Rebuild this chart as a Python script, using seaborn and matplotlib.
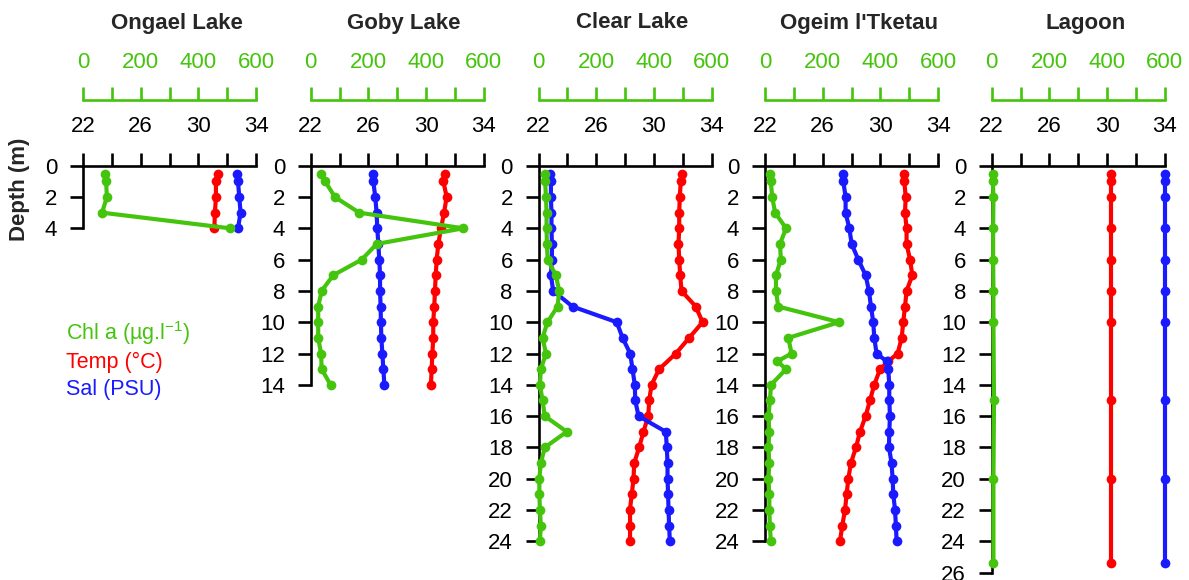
import numpy as np
import pandas as pd
import matplotlib
matplotlib.use("Agg")
import matplotlib.pyplot as plt
import seaborn as sns

# Colours
chl_col = "#44c40c"
temp_col = "#ff0000"
sal_col = "#1a1aff"

# Panel names
lakes = ["Ongael Lake", "Goby Lake", "Clear Lake", "Ogeim l'Tketau", "Lagoon"]

# Ongael Lake
ongael_depth = [0.5, 1, 2, 3, 4]
ongael_chl = [76, 80, 83, 66, 510]
ongael_temp = [31.34, 31.22, 31.22, 31.15, 31.11]
ongael_sal = [32.70, 32.75, 32.84, 32.93, 32.75]

# Goby Lake
goby_depth = [0.5, 1, 2, 3, 4, 5, 6, 7, 8, 9, 10, 11, 12, 13, 14]
goby_chl = [36, 50, 84, 168, 529, 229, 177, 78, 38, 26, 26, 26, 36, 38, 69]
goby_temp = [31.31, 31.20, 31.43, 31.25, 31.04, 30.85, 30.74, 30.67, 30.62,
             30.57, 30.50, 30.50, 30.44, 30.39, 30.34]
goby_sal = [26.30, 26.34, 26.48, 26.57, 26.62, 26.69, 26.76, 26.81, 26.81,
            26.85, 26.87, 26.90, 26.97, 27.04, 27.11]

# Clear Lake
clear_depth = [0.5, 1, 2, 3, 4, 5, 6, 7, 8, 9, 10, 11, 12, 13, 14, 15, 16,
               17, 18, 19, 20, 21, 22, 23, 24]
clear_chl = [23, 23, 26, 28, 28, 29, 32, 60, 72, 66, 31, 14, 26, 8, 5, 14,
             22, 98, 22, 8, 3, 3, 5, 8, 5]
clear_temp = [31.94, 31.87, 31.80, 31.76, 31.76, 31.71, 31.76, 31.83, 31.92,
              32.91, 33.38, 32.45, 31.53, 30.37, 29.84, 29.68, 29.61, 29.28,
              28.98, 28.64, 28.59, 28.47, 28.34, 28.36, 28.34]
clear_sal = [22.79, 22.86, 22.86, 22.90, 22.90, 22.93, 22.93, 22.86, 23.02,
             24.36, 27.43, 27.83, 28.36, 28.52, 28.68, 28.71, 28.94, 30.83,
             30.90, 30.95, 30.95, 30.99, 31.02, 31.06, 31.11]

# Ogeim l'Tketau
ogeim_depth = [0.5, 1, 2, 3, 4, 5, 6, 7, 8, 9, 10, 11, 12, 12.5, 13, 14, 15,
               16, 17, 18, 19, 20, 21, 22, 23, 24]
ogeim_chl = [17, 20, 25, 35, 73, 52, 55, 38, 38, 46, 257, 81, 92, 43, 73,
             21, 17, 12, 15, 12, 15, 12, 15, 15, 17, 20]
ogeim_temp = [31.66, 31.66, 31.76, 31.71, 31.82, 31.82, 32.06, 32.22, 31.82,
              31.71, 31.59, 31.48, 31.20, 30.55, 29.98, 29.58, 29.28, 28.98,
              28.59, 28.31, 27.96, 27.78, 27.66, 27.55, 27.36, 27.20]
ogeim_sal = [27.39, 27.43, 27.59, 27.59, 27.85, 28.01, 28.47, 28.98, 29.21,
             29.35, 29.51, 29.58, 29.74, 30.44, 30.55, 30.62, 30.62, 30.67,
             30.62, 30.60, 30.78, 30.85, 30.90, 31.02, 31.08, 31.13]

# Lagoon
lagoon_depth = [0.5, 1, 2, 4, 6, 8, 10, 15, 20, 25.4]
lagoon_chl = [6, 4, 6, 5, 5, 6, 6, 8, 6, 6]
lagoon_temp = [30.25, 30.25, 30.25, 30.25, 30.25, 30.25, 30.25, 30.25, 30.25, 30.25]
lagoon_sal = [34.0, 34.0, 34.0, 34.0, 34.0, 34.0, 34.0, 34.0, 34.0, 34.0]

# Max depth drawn on each depth axis
max_depth = [4, 14, 24, 24, 26]

panels = [
    (ongael_depth, ongael_chl, ongael_temp, ongael_sal),
    (goby_depth, goby_chl, goby_temp, goby_sal),
    (clear_depth, clear_chl, clear_temp, clear_sal),
    (ogeim_depth, ogeim_chl, ogeim_temp, ogeim_sal),
    (lagoon_depth, lagoon_chl, lagoon_temp, lagoon_sal),
]

sns.set_style("ticks")
plt.rcParams["font.family"] = ["Liberation Sans", "DejaVu Sans"]
plt.rcParams["mathtext.fontset"] = "custom"
plt.rcParams["mathtext.rm"] = "Liberation Sans"

W, H = 1189, 580
fig = plt.figure(figsize=(W / 100, H / 100), dpi=100)

left_px = [83, 310.7, 538.5, 765, 991.7]
width_px = 173
top_px = 165.7
bottom_px = 165.7 + 26 * 15.65

fs = 16
axis_lw = 1.9
tick_len = 9.5
line_kw = dict(marker="o", markersize=7, markeredgewidth=0, linewidth=3,
               clip_on=False, estimator=None, orient="y")

for i, (name, (depth, chl, temp, sal)) in enumerate(zip(lakes, panels)):
    ax = fig.add_axes([left_px[i] / W, (H - bottom_px) / H,
                       width_px / W, (bottom_px - top_px) / H])
    ax.patch.set_alpha(0)

    sns.lineplot(x=temp, y=depth, color=temp_col, ax=ax, **line_kw)
    sns.lineplot(x=sal, y=depth, color=sal_col, ax=ax, **line_kw)

    # Chl a on its own top axis
    ax2 = ax.twiny()
    ax2.patch.set_alpha(0)
    sns.lineplot(x=chl, y=depth, color=chl_col, ax=ax2, **line_kw)

    ax.set_xlim(22, 34)
    ax.set_ylim(26, 0)
    ax.set_xlabel("")
    ax.set_ylabel("")
    for s in ["bottom", "right"]:
        ax.spines[s].set_visible(False)
    ax.spines["left"].set_bounds(0, max_depth[i])
    ax.spines["top"].set_bounds(22, 34)
    for s in ["left", "top"]:
        ax.spines[s].set_linewidth(axis_lw)
        ax.spines[s].set_color("black")
    ax.set_xticks(np.arange(22, 35, 2))
    ax.set_xticklabels(["22", "", "26", "", "30", "", "34"])
    ax.set_yticks(np.arange(0, max_depth[i] + 1, 2))
    ax.tick_params(axis="both", direction="out", length=tick_len, width=axis_lw,
                   labelsize=fs, colors="black")
    ax.tick_params(axis="x", top=True, bottom=False, labeltop=True,
                   labelbottom=False, pad=11)
    ax.tick_params(axis="y", pad=9)

    ax2.set_xlim(0, 600)
    ax2.set_ylim(26, 0)
    ax2.set_xlabel("")
    ax2.set_ylabel("")
    for s in ["bottom", "right", "left"]:
        ax2.spines[s].set_visible(False)
    ax2.spines["top"].set_position(("outward", 47.5))
    ax2.spines["top"].set_color(chl_col)
    ax2.spines["top"].set_linewidth(axis_lw)
    ax2.set_xticks(np.arange(0, 601, 100))
    ax2.set_xticklabels(["0", "", "200", "", "400", "", "600"])
    ax2.tick_params(axis="x", direction="out", length=tick_len, width=axis_lw,
                    labelsize=fs, colors=chl_col, pad=10, top=True,
                    bottom=False, labeltop=True, labelbottom=False)
    ax2.tick_params(axis="y", left=False, right=False, labelleft=False,
                    labelright=False)

    fig.text((left_px[i] + width_px / 2 + 7) / W, 1 - 23 / H, name,
             ha="center", va="center", fontsize=16, fontweight="bold")

fig.text(20 / W, 1 - 189 / H, "Depth (m)", rotation=90, ha="center",
         va="center", fontsize=fs, fontweight="bold")

fig.text(66 / W, 1 - 333 / H, "Chl a (µg.l$^{-1}$)", color=chl_col,
         ha="left", va="center", fontsize=15.5)
fig.text(66 / W, 1 - 362 / H, "Temp (°C)", color=temp_col,
         ha="left", va="center", fontsize=15.5)
fig.text(66 / W, 1 - 389 / H, "Sal (PSU)", color=sal_col,
         ha="left", va="center", fontsize=15.5)

fig.savefig("out.png", dpi=100)
